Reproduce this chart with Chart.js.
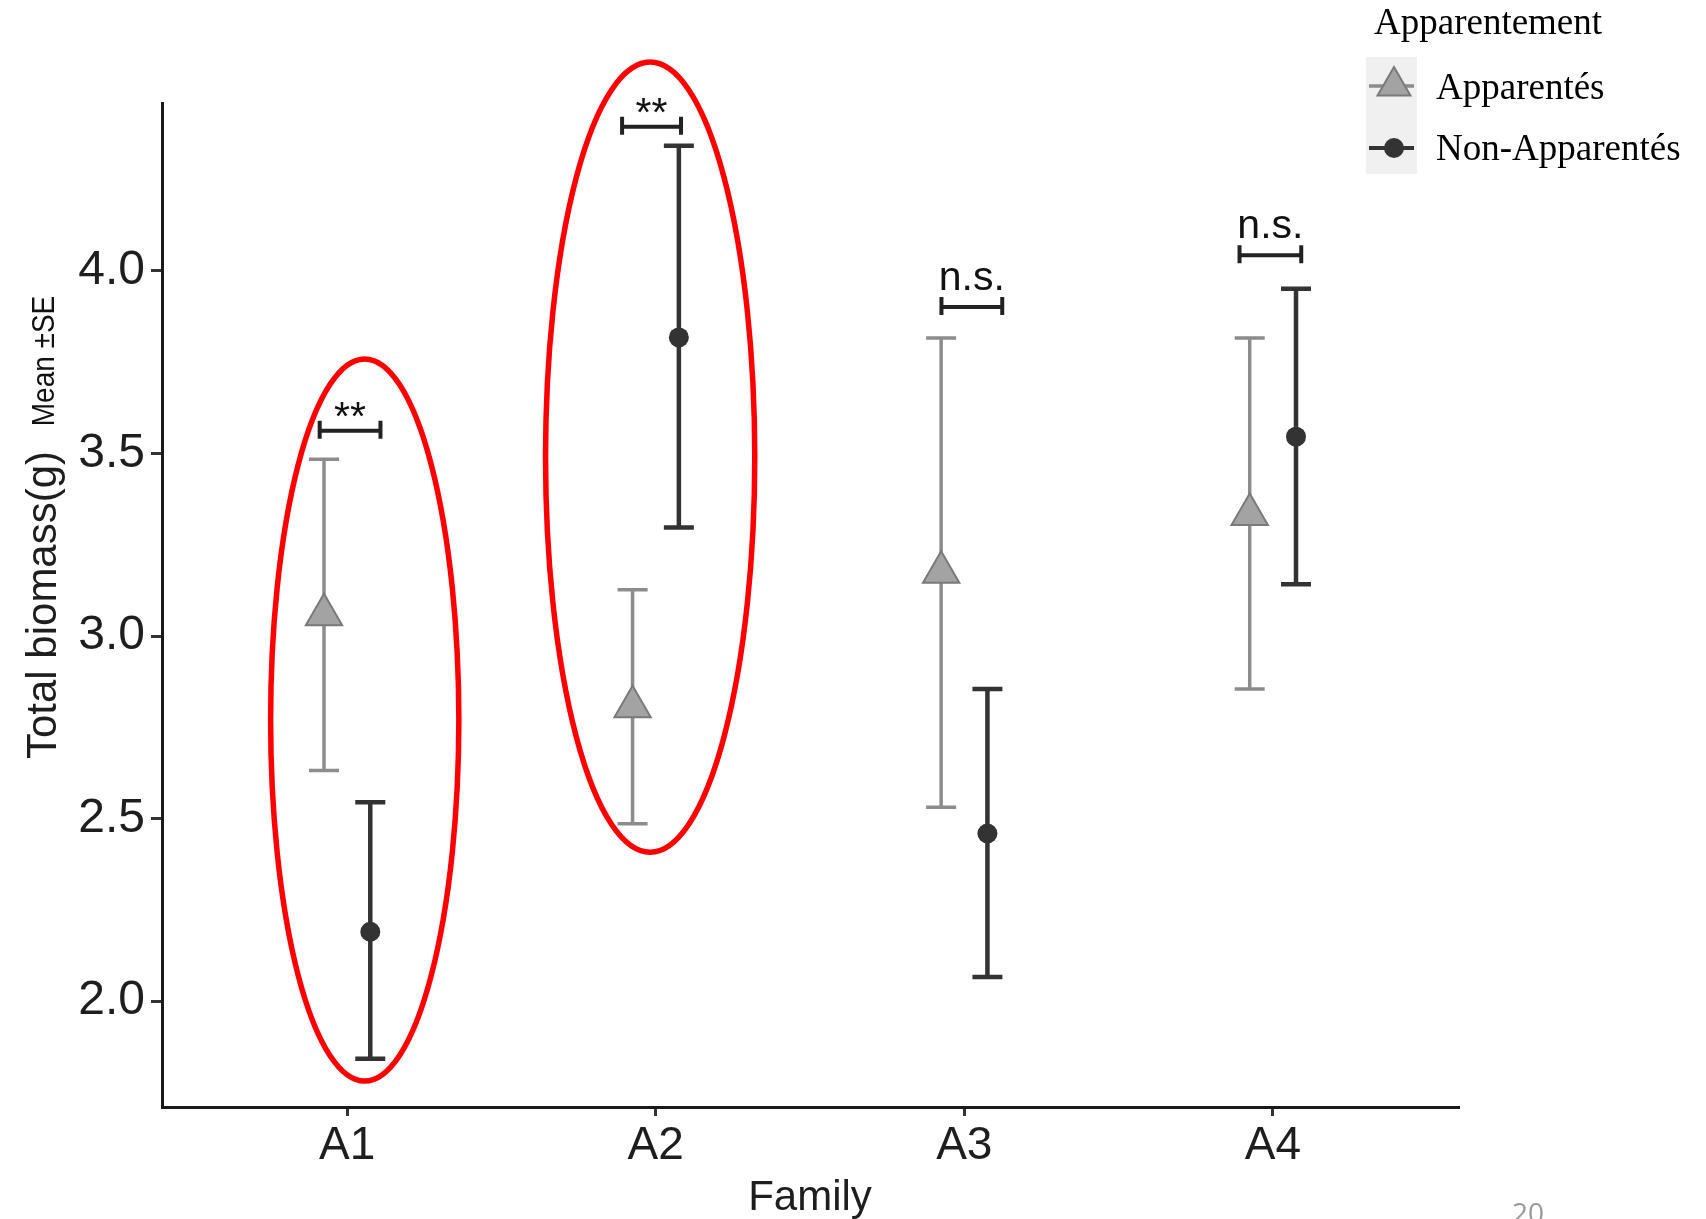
<!DOCTYPE html>
<html>
<head>
<meta charset="utf-8">
<script src="https://cdn.jsdelivr.net/npm/chart.js@4.4.1/dist/chart.umd.min.js"></script>
<style>
  body { margin: 0; background: #fff; }
  canvas { display: block; }
</style>
</head>
<body>
<canvas id="biomassChart" width="1706" height="1219"></canvas>
<script>
// Data (mean and SE bounds, g)
const families = ['A1', 'A2', 'A3', 'A4'];
const yTicks = [2.0, 2.5, 3.0, 3.5, 4.0];

const appMean = [3.058, 2.806, 3.175, 3.333];
const appLow = [2.632, 2.486, 2.531, 2.855];
const appHigh = [3.484, 3.127, 3.816, 3.816];

const nonMean = [2.190, 3.818, 2.459, 3.546];
const nonLow = [1.842, 3.297, 2.066, 3.142];
const nonHigh = [2.545, 4.343, 2.855, 3.951];

// significance brackets above each family
const sigLabels = ['**', '**', 'n.s.', 'n.s.'];
const sigY = [3.562, 4.395, 3.901, 4.043];
const sigFrom = [-0.089, -0.109, -0.074, -0.108];
const sigTo = [0.108, 0.082, 0.123, 0.092];

// red ellipses drawn on the slide (centre and radii in data units)
const ringX = [1.057, 1.982];
const ringY = [2.770, 3.490];
const ringRx = [0.305, 0.339];
const ringRy = [0.989, 1.082];

const dodge = 0.075;
const greyLine = '#8c8c8c';
const darkLine = '#333333';

// error bars go under the points
const errorBars = {
    id: 'errorBars',
    beforeDatasetsDraw(chart) {
        const ctx = chart.ctx;
        const yScale = chart.scales.y;
        chart.data.datasets.forEach((ds, di) => {
            const meta = chart.getDatasetMeta(di);
            ctx.save();
            ctx.strokeStyle = ds.barColor;
            ctx.lineWidth = ds.barWidth;
            meta.data.forEach((pt, i) => {
                const top = yScale.getPixelForValue(ds.errHigh[i]);
                const bottom = yScale.getPixelForValue(ds.errLow[i]);
                ctx.beginPath();
                ctx.moveTo(pt.x, top);
                ctx.lineTo(pt.x, bottom);
                ctx.moveTo(pt.x - 15, top);
                ctx.lineTo(pt.x + 15, top);
                ctx.moveTo(pt.x - 15, bottom);
                ctx.lineTo(pt.x + 15, bottom);
                ctx.stroke();
            });
            ctx.restore();
        });
    }
};

const extras = {
    id: 'extras',
    afterDraw(chart) {
        const ctx = chart.ctx;
        const xs = chart.scales.x;
        const ys = chart.scales.y;

        // brackets + labels
        ctx.save();
        ctx.strokeStyle = '#222';
        ctx.lineWidth = 4;
        ctx.fillStyle = '#111';
        ctx.font = '41px "Liberation Sans", Arial, sans-serif';
        ctx.textAlign = 'center';
        ctx.textBaseline = 'alphabetic';
        sigLabels.forEach((lab, i) => {
            const x0 = xs.getPixelForValue(i + 1 + sigFrom[i]);
            const x1 = xs.getPixelForValue(i + 1 + sigTo[i]);
            const y = ys.getPixelForValue(sigY[i]);
            ctx.beginPath();
            ctx.moveTo(x0, y);
            ctx.lineTo(x1, y);
            ctx.moveTo(x0, y - 10);
            ctx.lineTo(x0, y + 8);
            ctx.moveTo(x1, y - 10);
            ctx.lineTo(x1, y + 8);
            ctx.stroke();
            const gap = lab === '**' ? 1 : 17;
            ctx.fillText(lab, (x0 + x1) / 2, y - gap);
        });
        ctx.restore();

        // red rings
        ctx.save();
        ctx.strokeStyle = '#ff0000';
        ctx.lineWidth = 5.5;
        ringX.forEach((cx, i) => {
            const px = xs.getPixelForValue(cx);
            const py = ys.getPixelForValue(ringY[i]);
            const rx = xs.getPixelForValue(cx + ringRx[i]) - px;
            const ry = ys.getPixelForValue(ringY[i] - ringRy[i]) - py;
            ctx.beginPath();
            ctx.ellipse(px, py, rx, ry, 0, 0, Math.PI * 2);
            ctx.stroke();
        });
        ctx.restore();

        // second line of the y title
        ctx.save();
        ctx.translate(46, 361);
        ctx.rotate(-Math.PI / 2);
        ctx.scale(1.0, 1.1);
        ctx.fillStyle = '#111';
        ctx.font = '28px "Liberation Sans Narrow", "Liberation Sans", sans-serif';
        ctx.textAlign = 'center';
        ctx.textBaseline = 'middle';
        ctx.fillText('Mean \u00b1SE', 0, 0);
        ctx.restore();

        // legend (ggplot style key box)
        ctx.save();
        ctx.fillStyle = '#f0f0f0';
        ctx.fillRect(1366, 57, 51, 117);
        ctx.fillStyle = '#000';
        ctx.font = '37px "Liberation Serif", "Times New Roman", serif';
        ctx.textBaseline = 'alphabetic';
        ctx.textAlign = 'left';
        ctx.fillText('Apparentement', 1374, 34);
        ctx.fillText('Apparent\u00e9s', 1436, 99);
        ctx.fillText('Non-Apparent\u00e9s', 1436, 160);

        ctx.lineWidth = 3.5;
        ctx.strokeStyle = greyLine;
        ctx.beginPath();
        ctx.moveTo(1369, 86);
        ctx.lineTo(1414, 86);
        ctx.stroke();
        const r = 19;
        const cy = 86;
        ctx.beginPath();
        ctx.moveTo(1394, cy - r);
        ctx.lineTo(1394 + r * Math.sin(2 * Math.PI / 3), cy + r / 2);
        ctx.lineTo(1394 - r * Math.sin(2 * Math.PI / 3), cy + r / 2);
        ctx.closePath();
        ctx.fillStyle = '#a3a3a3';
        ctx.fill();
        ctx.lineWidth = 2;
        ctx.strokeStyle = '#7a7a7a';
        ctx.stroke();

        ctx.lineWidth = 4;
        ctx.strokeStyle = darkLine;
        ctx.beginPath();
        ctx.moveTo(1369, 148);
        ctx.lineTo(1414, 148);
        ctx.stroke();
        ctx.beginPath();
        ctx.arc(1394, 148, 10, 0, Math.PI * 2);
        ctx.fillStyle = darkLine;
        ctx.fill();
        ctx.restore();

        // slide number, cut at the bottom edge
        ctx.save();
        ctx.fillStyle = '#9a9a9a';
        ctx.font = '28px "Open Sans", "Noto Sans", sans-serif';
        ctx.textAlign = 'center';
        ctx.textBaseline = 'alphabetic';
        ctx.fillText('20', 1528, 1223);
        ctx.restore();
    }
};

const ctx = document.getElementById('biomassChart').getContext('2d');
new Chart(ctx, {
    type: 'scatter',
    data: {
        datasets: [
            {
                label: 'Apparentés',
                data: families.map((f, i) => ({ x: i + 1 - dodge, y: appMean[i] })),
                errLow: appLow,
                errHigh: appHigh,
                barColor: greyLine,
                barWidth: 3.5,
                pointStyle: 'triangle',
                radius: 21,
                backgroundColor: '#a3a3a3',
                borderColor: '#7a7a7a',
                borderWidth: 2,
                clip: false
            },
            {
                label: 'Non-Apparentés',
                data: families.map((f, i) => ({ x: i + 1 + dodge, y: nonMean[i] })),
                errLow: nonLow,
                errHigh: nonHigh,
                barColor: darkLine,
                barWidth: 4.5,
                pointStyle: 'circle',
                radius: 10,
                backgroundColor: darkLine,
                borderColor: darkLine,
                borderWidth: 0,
                clip: false
            }
        ]
    },
    options: {
        responsive: false,
        animation: false,
        layout: { padding: { left: 0, top: 103, right: 248, bottom: 0 } },
        plugins: {
            legend: { display: false },
            tooltip: { enabled: false }
        },
        scales: {
            x: {
                type: 'linear',
                min: 0.4,
                max: 4.6,
                afterFit: scale => { scale.height = 112; },
                afterBuildTicks: scale => {
                    scale.ticks = families.map((f, i) => ({ value: i + 1 }));
                },
                ticks: {
                    callback: v => families[v - 1],
                    color: '#1e1e1e',
                    font: { size: 46, family: '"Liberation Sans", Arial, sans-serif' },
                    padding: 3,
                    maxRotation: 0
                },
                grid: { drawOnChartArea: false, drawTicks: true, tickLength: 9, color: '#333', lineWidth: 3 },
                border: { display: true, color: '#1a1a1a', width: 3 },
                title: {
                    display: true,
                    text: 'Family',
                    color: '#1e1e1e',
                    font: { size: 42, family: '"Liberation Sans", Arial, sans-serif', lineHeight: 1 },
                    padding: { top: 0, bottom: 0 }
                }
            },
            y: {
                min: 1.71,
                max: 4.46,
                afterFit: scale => { scale.width = 162; },
                afterBuildTicks: scale => {
                    scale.ticks = yTicks.map(v => ({ value: v }));
                },
                ticks: {
                    callback: v => v.toFixed(1),
                    color: '#1e1e1e',
                    font: { size: 48, family: '"Liberation Sans", Arial, sans-serif' },
                    padding: 6
                },
                grid: { drawOnChartArea: false, drawTicks: true, tickLength: 11, color: '#333', lineWidth: 3 },
                border: { display: true, color: '#1a1a1a', width: 3 },
                title: {
                    display: true,
                    text: 'Total biomass(g)',
                    color: '#1e1e1e',
                    font: { size: 42, family: '"Liberation Sans", Arial, sans-serif', lineHeight: 1 },
                    padding: { top: 23, bottom: 0 }
                }
            }
        }
    },
    plugins: [errorBars, extras]
});
</script>
</body>
</html>
